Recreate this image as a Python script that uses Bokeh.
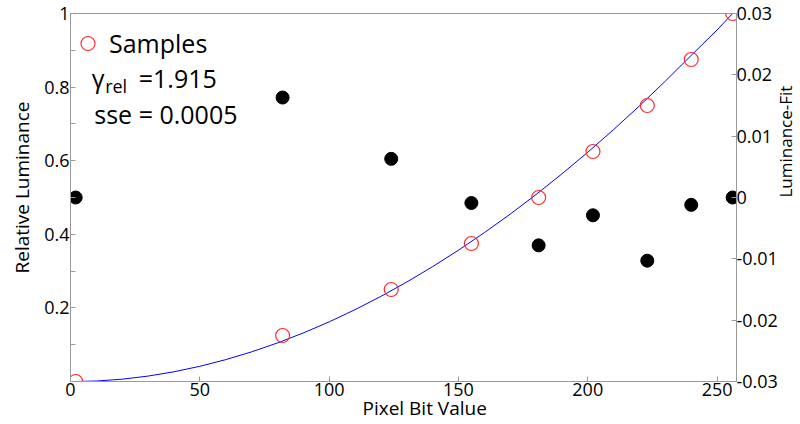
from bokeh.plotting import figure
from bokeh.models import (Range1d, LinearAxis, FixedTicker, CustomJSTickFormatter,
                          Label, Legend, LegendItem, Title)
from bokeh.embed import file_html
from bokeh.resources import INLINE

# ---- data ----
pixel_values = [2, 82, 124, 155, 181, 202, 223, 240, 256]
relative_luminance = [0.0, 0.125, 0.25, 0.375, 0.5, 0.625, 0.75, 0.875, 1.0]
residuals = [0.0, 0.0163, 0.0063, -0.0009, -0.0078, -0.0029, -0.0103, -0.0012, 0.0]

fit_x = [2, 10, 20, 30, 40, 50, 60, 70, 80, 90, 100, 110, 120, 130, 140, 150,
         160, 170, 180, 190, 200, 210, 220, 230, 240, 250, 256]
fit_y = [0.0, 0.0013, 0.0063, 0.0147, 0.0264, 0.0413, 0.0594, 0.0805, 0.1047,
         0.1319, 0.1620, 0.1952, 0.2312, 0.2702, 0.3121, 0.3568, 0.4044, 0.4548,
         0.5081, 0.5642, 0.6230, 0.6847, 0.7490, 0.8163, 0.8862, 0.9553, 1.0]

x_ticks = [0, 50, 100, 150, 200, 250]
left_ticks = [0.2, 0.4, 0.6, 0.8, 1.0]
left_minor_ticks = [0.1, 0.3, 0.5, 0.7, 0.9]
right_ticks = [-0.03, -0.02, -0.01, 0.0, 0.01, 0.02, 0.03]

gamma_text = "=1.915"
sse_text = "sse = 0.0005"

FONT = "Open Sans"
AXIS_GREY = "#9a9a9a"

p = figure(frame_width=666, frame_height=368,
           min_border_left=68, min_border_right=66,
           min_border_top=13, min_border_bottom=43,
           x_range=Range1d(0, 257.5), y_range=Range1d(0, 1),
           output_backend="svg", toolbar_location=None)
p.extra_y_ranges = {"res": Range1d(-0.03, 0.03)}
p.xgrid.visible = False
p.ygrid.visible = False
p.outline_line_color = AXIS_GREY
p.background_fill_color = "white"
p.border_fill_color = "white"


def style_axis(ax, size="18px"):
    ax.axis_line_color = AXIS_GREY
    ax.major_tick_line_color = AXIS_GREY
    ax.minor_tick_line_color = AXIS_GREY
    ax.major_tick_in = 5
    ax.major_tick_out = 0
    ax.minor_tick_in = 5
    ax.minor_tick_out = 0
    ax.major_label_text_font = FONT
    ax.major_label_text_font_size = size
    ax.major_label_text_color = "black"


xa = p.xaxis[0]
xa.ticker = FixedTicker(ticks=x_ticks, minor_ticks=[])
style_axis(xa)
xa.major_label_standoff = 1

ya = p.yaxis[0]
ya.ticker = FixedTicker(ticks=left_ticks, minor_ticks=left_minor_ticks)
ya.formatter = CustomJSTickFormatter(code="return (Math.round(tick*10)/10).toString();")
style_axis(ya)
ya.major_label_standoff = 1

ra = LinearAxis(y_range_name="res", ticker=FixedTicker(ticks=right_ticks, minor_ticks=[]))
ra.formatter = CustomJSTickFormatter(code="return (Math.round(tick*100)/100).toString();")
style_axis(ra)
ra.major_label_standoff = 0
p.add_layout(ra, "right")

# right axis title (reads bottom-to-top like the reference if supported)
if "axis_label_orientation" in ra.properties():
    ra.axis_label = "Luminance-Fit"
    ra.axis_label_orientation = 1.5708
    ra.axis_label_standoff = 5
    ra.axis_label_text_font = FONT
    ra.axis_label_text_font_size = "17px"
    ra.axis_label_text_font_style = "normal"
    ra.axis_label_text_color = "black"
else:
    p.add_layout(Title(text="Luminance-Fit", align="right", offset=131, standoff=-4,
                       text_font=FONT, text_font_size="17px", text_font_style="normal",
                       text_color="black"), "right")

# ---- glyphs ----
p.line(fit_x, fit_y, line_color="#0000ff", line_width=1)
samples = p.scatter(pixel_values, relative_luminance, marker="circle", size=14,
                    fill_color=None, line_color="#ff2a2a", line_width=1.2)
p.scatter(pixel_values, residuals, y_range_name="res", marker="circle", size=13,
          fill_color="black", line_color="black")

legend = Legend(items=[LegendItem(label="Samples", renderers=[samples])],
                location="top_left", margin=0, padding=5, spacing=0,
                glyph_width=35, glyph_height=60, label_standoff=4,
                label_text_font=FONT, label_text_font_size="25px",
                label_text_color="black",
                border_line_color=None, background_fill_alpha=0)
p.add_layout(legend)

# ---- text annotations ----
def lab(x, y, text, size, **kw):
    p.add_layout(Label(x=x, y=y, text=text, text_font=FONT, text_font_size=size,
                       text_color="black", **kw))

lab(8.2, 0.8253, "\u03b3", "25px", text_baseline="alphabetic")
lab(13.4, 0.8043, "rel", "18px", text_baseline="alphabetic")
lab(26.4, 0.8253, gamma_text, "25px", text_baseline="alphabetic")
lab(9.2, 0.7274, sse_text, "25px", text_baseline="alphabetic")

# axis titles
p.add_layout(Title(text="Pixel Bit Value", align="left", offset=292, standoff=-12,
                   text_font=FONT, text_font_size="19px", text_font_style="normal",
                   text_color="black"), "below")
p.add_layout(Title(text="Relative Luminance", align="left", offset=108, standoff=13,
                   text_font=FONT, text_font_size="19px", text_font_style="normal",
                   text_color="black"), "left")

open("out.html", "w").write(file_html(p, INLINE))
